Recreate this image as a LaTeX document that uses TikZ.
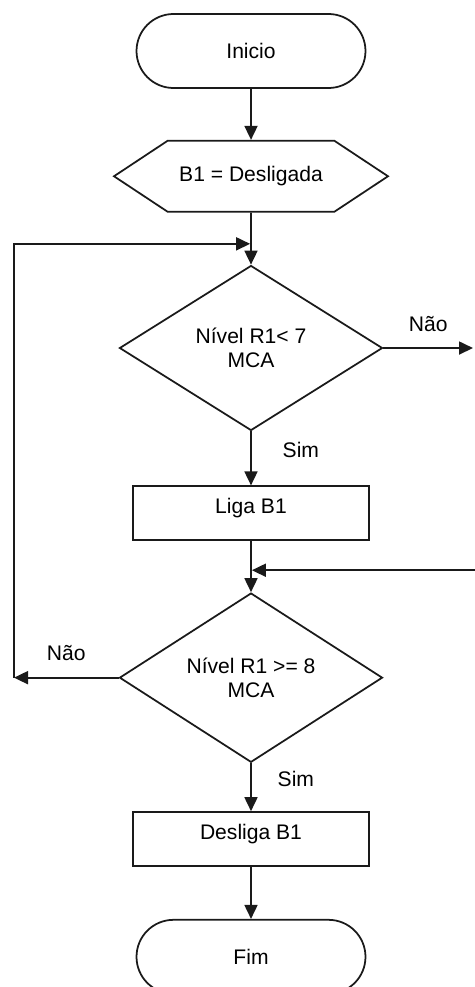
\documentclass[tikz,border=0pt]{standalone}
\usepackage{fontspec}
\setmainfont{Liberation Sans}
\usepackage{tikz}
\usetikzlibrary{arrows.meta,positioning,shapes.geometric,shapes.misc,%
                shapes.symbols,calc}
\definecolor{ink}{HTML}{1A1A1A}
\tikzset{
  term/.style    ={rounded rectangle,draw=ink,line width=1pt,minimum width=4.72cm,
                   minimum height=1.48cm,inner sep=2pt},
  prep/.style    ={signal,signal to=west and east,signal pointer angle=67,draw=ink,
                   line width=1pt,minimum width=5.48cm,minimum height=1.42cm,inner sep=2pt},
  decision/.style={diamond,draw=ink,line width=1pt,minimum width=5.26cm,
                   minimum height=3.3cm,inner sep=0pt,align=center},
  proc/.style    ={rectangle,draw=ink,line width=1pt,minimum width=4.72cm,
                   minimum height=1.08cm,text height=0.32cm,text depth=0.3cm},
  link/.style    ={line width=1pt,draw=ink},
  flow/.style    ={-{Triangle[length=2.8mm,width=2.6mm]},line width=1pt,draw=ink}
}
\begin{document}
\begin{tikzpicture}[every node/.style={font=\fontsize{12}{14}\selectfont},node distance=1.08cm]
  \useasboundingbox (0,0) rectangle (9.5,-19.74);
  \node[term] (ini) at (5.02,-1.02) {Inicio};
  \node[prep,below=1.02cm of ini] (b1off) {B1 = Desligada};
  \node[decision,below=1.04cm of b1off] (lowlvl) {Nível R1< 7\\MCA};
  \node[proc,below=1.08cm of lowlvl] (b1on) {Liga B1};
  \node[decision,below=1.02cm of b1on] (highlvl) {Nível R1 >= 8\\MCA};
  \node[proc,below=0.96cm of highlvl] (b1stop) {Desliga B1};
  \node[term,below=1.04cm of b1stop] (fim) {Fim};
  % junction points and free ends
  \coordinate (j1) at ($(b1off.south)!0.6!(lowlvl.north)$);
  \coordinate (j2) at ($(b1on.south)!0.57!(highlvl.north)$);
  \coordinate (out1) at (9.46,0 |- lowlvl.east);
  \coordinate (in2) at (9.5,0 |- j2);
  \coordinate (back) at (0.28,0 |- highlvl.west);
  \draw[flow] (ini) -- (b1off);
  \draw[link] (b1off.south) -- (j1);
  \draw[flow] (j1) -- (lowlvl.north);
  \draw[flow] (lowlvl.east) -- node[above=2mm] {Não} (out1);
  \draw[flow] (lowlvl) -- node[pos=0.35,right=5mm] {Sim} (b1on);
  \draw[link] (b1on.south) -- (j2);
  \draw[flow] (j2) -- (highlvl.north);
  \draw[flow,shorten >=0.5pt] (in2) -- (j2);
  \draw[flow] (highlvl.west) -- node[above=2mm] {Não} (back);
  \draw[flow,shorten >=0.5pt] (back) |- (j1);
  \draw[flow] (highlvl) -- node[pos=0.32,right=4mm] {Sim} (b1stop);
  \draw[flow] (b1stop) -- (fim);
\end{tikzpicture}
\end{document}
